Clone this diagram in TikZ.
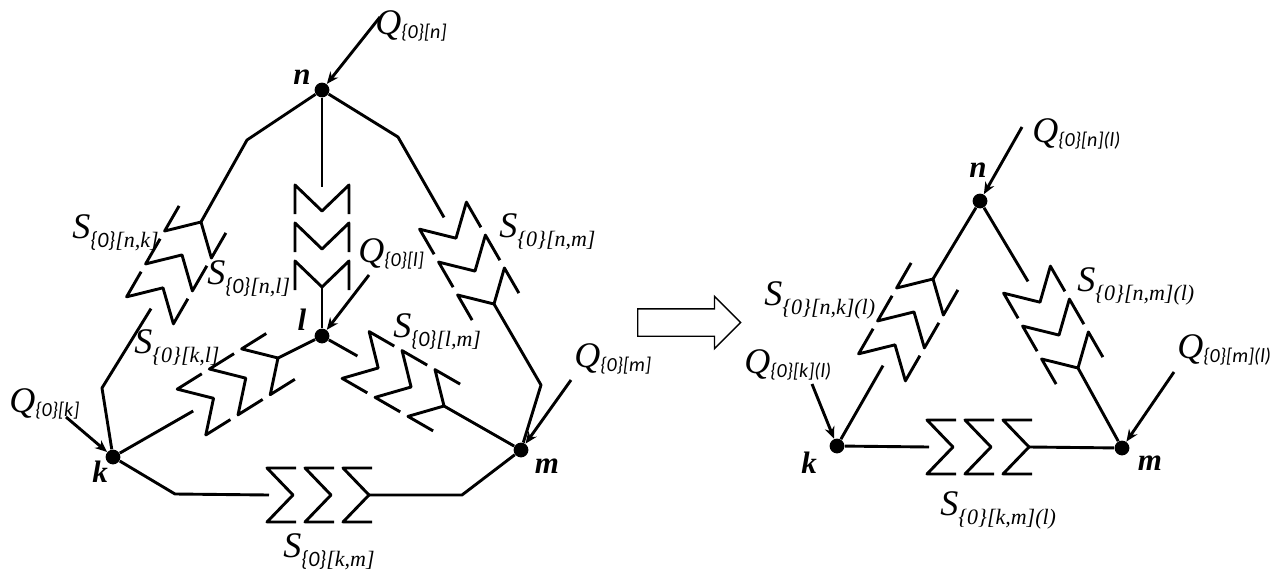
\documentclass[tikz,border=0pt]{standalone}
\usepackage{fontspec}
\setmainfont{Liberation Serif}
\newfontfamily\calib{Carlito}
\usetikzlibrary{arrows.meta,shapes.arrows}

\newcommand{\lbl}[2]{{\fontsize{18}{18}\selectfont\itshape #1}\raisebox{-4.5pt}{\fontsize{11}{11}\selectfont\itshape #2}}
\newcommand{\qlbl}[1]{{\fontsize{18}{18}\selectfont\itshape Q}\raisebox{-2pt}{\fontsize{10}{10}\selectfont\calib\itshape #1}}
\newcommand{\zer}{{\calib\{0\}}}
\newcommand{\zert}{\{0\}}

\tikzset{
  wire/.style={line width=1.45pt,line join=round},
  dot/.style={circle,fill=black,inner sep=0pt,minimum size=7.4pt},
  lab/.style={anchor=base west,inner sep=0pt},
  vert/.style={anchor=base,inner sep=0pt,font=\fontsize{15.5}{15.5}\selectfont\bfseries\itshape},
  input/.style={wire,-{Stealth[length=6pt,width=5pt]}},
  spring/.pic={
    \foreach \p in {0,-38,-76} {
      \draw[wire] (\p+3,27) -- (\p-26,27) -- (\p,0) -- (\p-26,-27) -- (\p+3,-27);
    }
    \coordinate (-in) at (-100,0);
    \coordinate (-out) at (0,0);
  }
}

\begin{document}
\begin{tikzpicture}[x=0.5pt,y=-0.5pt]
\useasboundingbox (0,0) rectangle (1285,573);

% left network
\node[dot] (n) at (322,90) {};
\node[dot] (l) at (322,336) {};
\node[dot] (k) at (113,457) {};
\node[dot] (m) at (521,450) {};

\coordinate (nka) at (247,140);
\coordinate (nkb) at (102,388);
\coordinate (nma) at (398,137);
\coordinate (nmb) at (541,385);
\coordinate (kma) at (175,494);
\coordinate (kmb) at (462,495);
\coordinate (qn) at (380,17);
\coordinate (ql) at (369,275);
\coordinate (qk) at (66,417);
\coordinate (qm) at (571,380);

\pic[rotate=60] (nk) at (201,222) {spring};
\pic[rotate=-60] (nm) at (494,304) {spring};
\pic[rotate=-90] (nl) at (322,287) {spring};
\pic[rotate=32] (kl) at (278,358) {spring};
\pic[rotate=-30] (lm) at (444,406) {spring};
\pic (km) at (369,495) {spring};

\draw[wire] (n) -- (nka) -- (nk-out);
\draw[wire] (nk-in) -- (nkb) -- (k);
\draw[wire] (n) -- (nma) -- (nm-in);
\draw[wire] (nm-out) -- (nmb) -- (m);
\draw[wire] (n) -- (nl-in);
\draw[wire] (nl-out) -- (l);
\draw[wire] (k) -- (kl-in);
\draw[wire] (kl-out) -- (l);
\draw[wire] (l) -- (lm-in);
\draw[wire] (lm-out) -- (m);
\draw[wire] (k) -- (kma) -- (km-in);
\draw[wire] (km-out) -- (kmb) -- (m);

\draw[input] (qn) -- (n);
\draw[input] (ql) -- (l);
\draw[input] (qk) -- (k);
\draw[input] (qm) -- (m);

\node[vert] (nlab) at (302,84) {n};
\node[vert] (llab) at (302,330) {l};
\node[vert] (klab) at (100,482) {k};
\node[vert] (mlab) at (547,473) {m};

\node[lab] (lqn) at (375,34) {\qlbl{\{0\}[n]}};
\node[lab] (lql) at (358,262) {\qlbl{\{0\}[l]}};
\node[lab] (lqk) at (9,412) {\qlbl{\{0\}[k]}};
\node[lab] (lqm) at (574,367) {\qlbl{\{0\}[m]}};
\node[lab] (lsnk) at (72,238) {\lbl{S}{\zer[n,k]}};
\node[lab] (lsnl) at (207,284) {\lbl{S}{\zer[n,l]}};
\node[lab] (lsnm) at (499,237) {\lbl{S}{\zert[n,m]}};
\node[lab] (lskl) at (134,353) {\lbl{S}{\zert[k,l]}};
\node[lab] (lslm) at (393,337) {\lbl{S}{\zer[l,m]}};
\node[lab] (lskm) at (283,557) {\lbl{S}{\zer[k,m]}};

% block arrow
\node[draw,single arrow,inner xsep=0pt,inner ysep=6.5pt,line width=0.7pt,minimum height=51.5pt,minimum width=25.5pt,
  single arrow head extend=6.25pt,anchor=tail] (step) at (637,322.5) {};

% right network
\node[dot] (rn) at (980,201) {};
\node[dot] (rk) at (837,446) {};
\node[dot] (rm) at (1122,448) {};

\coordinate (rqn) at (1022,127);
\coordinate (rqk) at (812,384);
\coordinate (rqm) at (1174,372);

\pic[rotate=60] (rnk) at (933,279) {spring};
\pic[rotate=-60] (rnm) at (1078,368) {spring};
\pic (rkm) at (1029,447) {spring};

\draw[wire] (rn) -- (rnk-out);
\draw[wire] (rnk-in) -- (rk);
\draw[wire] (rn) -- (rnm-in);
\draw[wire] (rnm-out) -- (rm);
\draw[wire] (rk) -- (rkm-in);
\draw[wire] (rkm-out) -- (rm);

\draw[input] (rqn) -- (rn);
\draw[input] (rqk) -- (rk);
\draw[input] (rqm) -- (rm);

\node[vert] (rnlab) at (978,177) {n};
\node[vert] (rklab) at (809,473) {k};
\node[vert] (rmlab) at (1150,470) {m};

\node[lab] (rlqn) at (1032,142) {\qlbl{\{0\}[n](l)}};
\node[lab] (rlqk) at (744,373) {\qlbl{\{0\}[k](l)}};
\node[lab] (rlqm) at (1177,358) {\qlbl{\{0\}[m](l)}};
\node[lab] (rlsnk) at (764,305) {\lbl{S}{\zert[n,k](l)}};
\node[lab] (rlsnm) at (1077,291) {\lbl{S}{\zert[n,m](l)}};
\node[lab] (rlskm) at (940,515) {\lbl{S}{\zert[k,m](l)}};

\end{tikzpicture}
\end{document}
